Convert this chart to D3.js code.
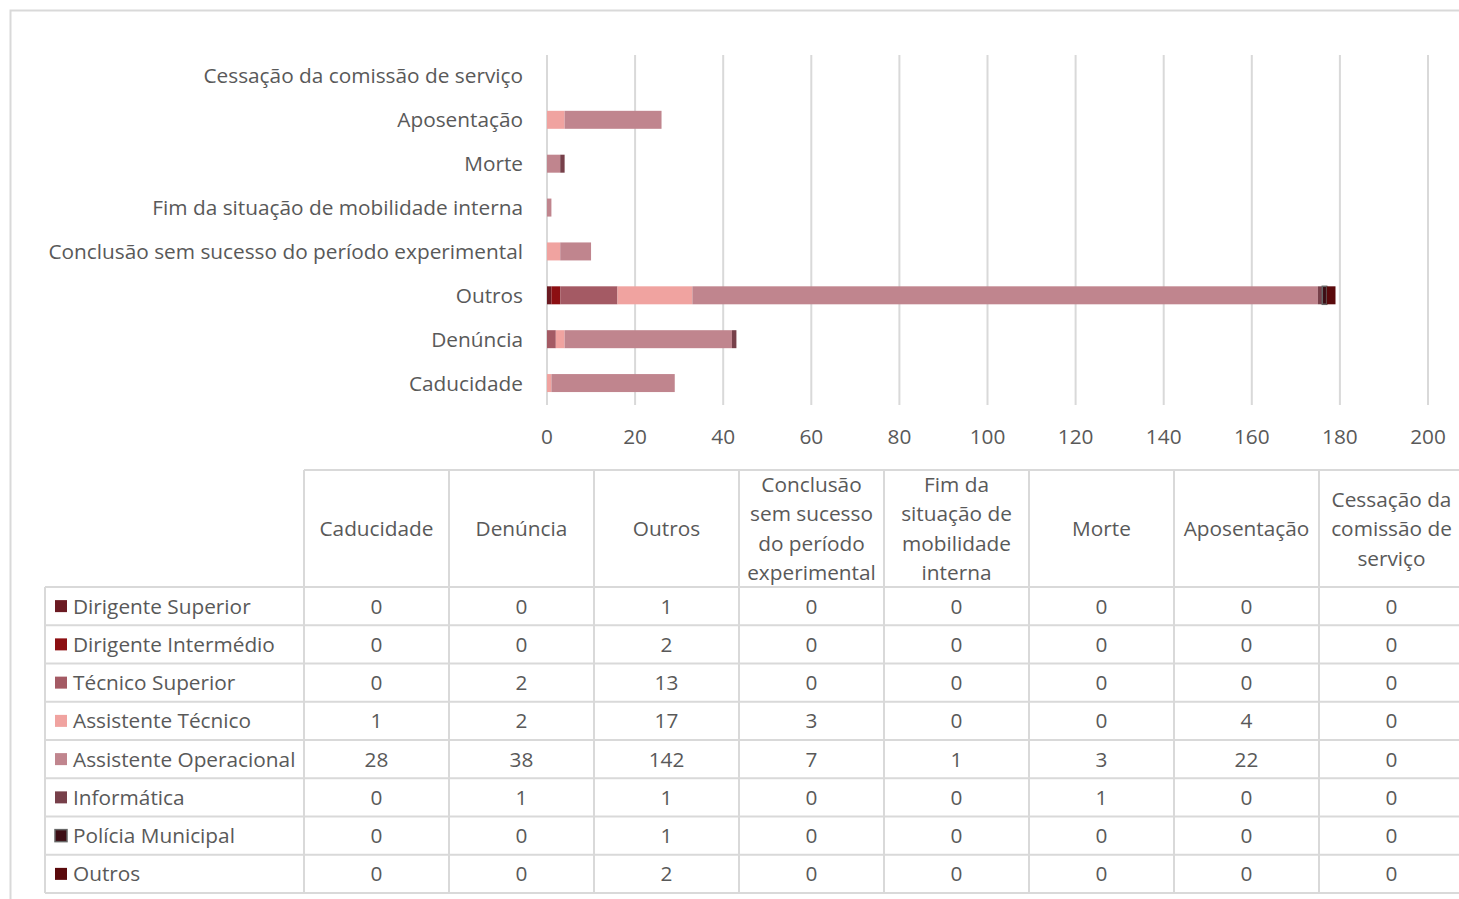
<!DOCTYPE html>
<html>
<head>
<meta charset="utf-8">
<script src="https://cdn.jsdelivr.net/npm/d3@7"></script>
<style>
  body { margin: 0; background: #fff; }
  svg { display: block; font-family: "Open Sans", Lato, sans-serif; }
</style>
</head>
<body>
<div id="container"></div>
<script>
// categories (table column order)
const categories = ["Caducidade", "Denúncia", "Outros",
  "Conclusão sem sucesso do período experimental",
  "Fim da situação de mobilidade interna", "Morte", "Aposentação",
  "Cessação da comissão de serviço"];
// header text wrapped as in the data table
const headerLines = [["Caducidade"], ["Denúncia"], ["Outros"],
  ["Conclusão", "sem sucesso", "do período", "experimental"],
  ["Fim da", "situação de", "mobilidade", "interna"], ["Morte"], ["Aposentação"],
  ["Cessação da", "comissão de", "serviço"]];

const seriesNames = ["Dirigente Superior", "Dirigente Intermédio", "Técnico Superior",
  "Assistente Técnico", "Assistente Operacional", "Informática", "Polícia Municipal", "Outros"];
const seriesColors = ["#6b1a22", "#8c0f12", "#a45a64", "#f0a3a0", "#c0858e", "#77404a", "#3d0d14", "#5a0a0c"];

const dirigenteSuperior     = [0, 0, 1, 0, 0, 0, 0, 0];
const dirigenteIntermedio   = [0, 0, 2, 0, 0, 0, 0, 0];
const tecnicoSuperior       = [0, 2, 13, 0, 0, 0, 0, 0];
const assistenteTecnico     = [1, 2, 17, 3, 0, 0, 4, 0];
const assistenteOperacional = [28, 38, 142, 7, 1, 3, 22, 0];
const informatica           = [0, 1, 1, 0, 0, 1, 0, 0];
const policiaMunicipal      = [0, 0, 1, 0, 0, 0, 0, 0];
const outrosSerie           = [0, 0, 2, 0, 0, 0, 0, 0];

const xTicks = [0, 20, 40, 60, 80, 100, 120, 140, 160, 180, 200];

const seriesValues = [dirigenteSuperior, dirigenteIntermedio, tecnicoSuperior,
  assistenteTecnico, assistenteOperacional, informatica, policiaMunicipal, outrosSerie];

// table rows for d3.stack
const rows = categories.map((c, i) => {
  const r = { cat: c };
  seriesNames.forEach((s, j) => r[s] = seriesValues[j][i]);
  return r;
});

const width = 1459, height = 899;
const textColor = "#595959";
const gridColor = "#d9d9d9";
const fs = 20.8;

const svg = d3.select("#container").append("svg")
  .attr("width", width).attr("height", height);

// outer chart border
svg.append("path")
  .attr("d", `M10.5,${height} V10.5 H${width}`)
  .attr("fill", "none").attr("stroke", gridColor).attr("stroke-width", 2);

// scales
const x = d3.scaleLinear().domain([0, 200]).range([547, 1428]);
const y = d3.scaleBand().domain(categories.slice().reverse())
  .range([54, 405]).paddingInner(0.59).paddingOuter(0.295);

// gridlines
svg.append("g").selectAll("line").data(xTicks).join("line")
  .attr("x1", d => x(d)).attr("x2", d => x(d))
  .attr("y1", 55).attr("y2", 405)
  .attr("stroke", gridColor).attr("stroke-width", 2);

// x tick labels
svg.append("g").selectAll("text").data(xTicks).join("text")
  .attr("x", d => x(d)).attr("y", 444)
  .attr("text-anchor", "middle")
  .attr("fill", textColor).attr("font-size", fs)
  .text(d => d);

// category labels
svg.append("g").selectAll("text").data(categories).join("text")
  .attr("x", 523).attr("y", d => y(d) + y.bandwidth() / 2 + 7.5)
  .attr("text-anchor", "end")
  .attr("fill", textColor).attr("font-size", fs)
  .text(d => d);

// stacked bars
const stack = d3.stack().keys(seriesNames)(rows);
svg.append("g").selectAll("g").data(stack).join("g")
  .attr("fill", (d, i) => seriesColors[i])
  .attr("stroke", (d, i) => seriesNames[i] === "Polícia Municipal" ? "#666" : null)
  .attr("stroke-width", 1.5)
  .selectAll("rect").data(d => d.filter(v => v[1] - v[0] > 0)).join("rect")
  .attr("x", d => x(d[0]))
  .attr("y", d => y(d.data.cat))
  .attr("width", d => x(d[1]) - x(d[0]))
  .attr("height", y.bandwidth());

// data table
const col = d3.scaleBand().domain(categories).range([304, 304 + 8 * 145]);
const rowY = d3.scaleBand().domain(seriesNames).range([587, 893]);
const headTop = 470, tableLeft = 45;

const grid = svg.append("g").attr("stroke", gridColor).attr("stroke-width", 2);
grid.append("line").attr("x1", 304).attr("x2", width).attr("y1", headTop).attr("y2", headTop);
grid.selectAll("line.h").data(seriesNames.concat(["end"])).join("line").attr("class", "h")
  .attr("x1", tableLeft).attr("x2", width)
  .attr("y1", d => d === "end" ? 893 : rowY(d)).attr("y2", d => d === "end" ? 893 : rowY(d));
grid.append("line").attr("x1", tableLeft).attr("x2", tableLeft).attr("y1", 587).attr("y2", 893);
grid.selectAll("line.v").data(categories).join("line").attr("class", "v")
  .attr("x1", d => col(d)).attr("x2", d => col(d))
  .attr("y1", headTop).attr("y2", 893);

// header texts
const lineH = 29.5;
svg.append("g").selectAll("text").data(categories).join("text")
  .attr("text-anchor", "middle").attr("fill", textColor).attr("font-size", fs)
  .each(function (d, i) {
    const lines = headerLines[i];
    const cy = (headTop + 587) / 2;
    const y0 = cy - (lines.length - 1) * lineH / 2 + 7.5;
    d3.select(this).selectAll("tspan").data(lines).join("tspan")
      .attr("x", col(d) + col.bandwidth() / 2)
      .attr("y", (l, k) => y0 + k * lineH)
      .text(l => l);
  });

// row labels with legend keys
const rowG = svg.append("g").selectAll("g").data(seriesNames).join("g")
  .attr("transform", d => `translate(0,${rowY(d) + rowY.bandwidth() / 2})`);
rowG.append("rect")
  .attr("x", 55).attr("y", -6).attr("width", 12).attr("height", 12)
  .attr("fill", (d, i) => seriesColors[i])
  .attr("stroke", d => d === "Polícia Municipal" ? "#666" : null)
  .attr("stroke-width", 1.5);
rowG.append("text")
  .attr("x", 73).attr("y", 7.5)
  .attr("fill", textColor).attr("font-size", fs)
  .text(d => d);

// cell values
rowG.each(function (s, j) {
  d3.select(this).selectAll("text.v").data(categories).join("text").attr("class", "v")
    .attr("x", c => col(c) + col.bandwidth() / 2).attr("y", 7.5)
    .attr("text-anchor", "middle")
    .attr("fill", textColor).attr("font-size", fs)
    .text((c, i) => seriesValues[j][i]);
});
</script>
</body>
</html>
